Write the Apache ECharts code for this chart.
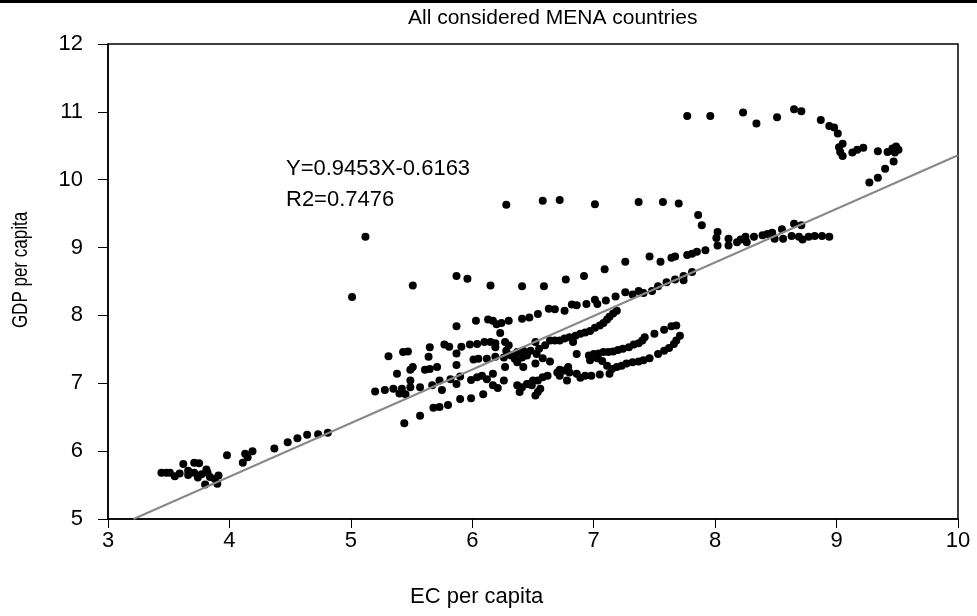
<!DOCTYPE html>
<html><head><meta charset="utf-8">
<script src="https://cdn.jsdelivr.net/npm/echarts@6/dist/echarts.min.js"></script>
<style>html,body{margin:0;padding:0;background:#fff}#c{width:977px;height:616px}</style>
</head><body><div id="c"></div>
<script>
// Text
const chartTitle = 'All considered MENA countries';
const xName = 'EC per capita';
const yName = 'GDP per capita';
const eqText = 'Y=0.9453X-0.6163';
const r2Text = 'R2=0.7476';
// Axis ranges
const xRange = [3, 10];
const yRange = [5, 12];
// Fitted line end points [EC, GDP]
const fitEC = [3.21, 10];
const fitGDP = [5.0, 10.36];
// Observations [EC per capita, GDP per capita]
const clusterLow = [[3.44,5.68],[3.48,5.68],[3.51,5.68],[3.55,5.63],[3.59,5.67],[3.62,5.81],[3.66,5.71],[3.66,5.65],[3.71,5.83],[3.75,5.82],[3.71,5.68],[3.74,5.61],[3.77,5.66],[3.81,5.73],[3.80,5.51],[3.82,5.68],[3.84,5.62],[3.88,5.59],[3.91,5.64],[3.90,5.52],[3.98,5.94],[4.11,5.83],[4.13,5.96],[4.15,5.91],[4.19,6.00],[4.37,6.04],[4.48,6.13],[4.56,6.19],[4.64,6.24],[4.73,6.25],[4.81,6.27]];
const chain85 = [[5.12,9.16],[5.01,8.27],[5.51,8.44],[5.87,8.58],[5.96,8.54],[6.15,8.44],[6.41,8.43],[6.59,8.43],[6.77,8.53],[6.92,8.58],[7.09,8.68],[7.26,8.79],[7.46,8.87],[7.55,8.79],[7.64,8.85],[7.67,8.87],[7.77,8.89],[7.81,8.91],[7.85,8.94],[7.92,8.96]];
const row96 = [[6.28,9.63],[6.58,9.69],[6.72,9.70],[7.01,9.64],[7.37,9.67],[7.57,9.67],[7.70,9.65],[7.86,9.48],[7.89,9.33]];
const row92 = [[8.02,9.23],[8.01,9.14],[8.02,9.03],[8.11,9.13],[8.11,9.03],[8.18,9.08],[8.21,9.12],[8.25,9.16],[8.26,9.08],[8.32,9.16],[8.39,9.18],[8.43,9.20],[8.47,9.22],[8.49,9.13],[8.55,9.27],[8.56,9.13],[8.65,9.35],[8.71,9.33],[8.63,9.17],[8.69,9.16],[8.72,9.12],[8.77,9.16],[8.82,9.17],[8.88,9.17],[8.94,9.16]];
const arcTop = [[7.77,10.94],[7.96,10.94],[8.23,10.99],[8.34,10.83],[8.51,10.92],[8.65,11.04],[8.71,11.01],[8.87,10.88],[8.94,10.79],[8.98,10.77],[9.01,10.68],[9.05,10.53],[9.02,10.48],[9.03,10.41],[9.05,10.35],[9.13,10.40],[9.17,10.44],[9.22,10.47],[9.34,10.42],[9.42,10.41],[9.46,10.46],[9.49,10.49],[9.51,10.44],[9.48,10.40],[9.47,10.27],[9.40,10.16],[9.34,10.03],[9.27,9.96]];
const chain80 = [[5.87,7.84],[6.03,7.92],[6.13,7.94],[6.17,7.92],[6.20,7.87],[6.24,7.89],[6.30,7.92],[6.41,7.95],[6.47,7.97],[6.23,7.74],[6.54,8.02],[6.63,8.10],[6.68,8.09],[6.76,8.07],[6.82,8.16],[6.86,8.15],[6.94,8.17],[7.01,8.23],[7.03,8.17],[7.10,8.22],[7.18,8.28],[7.26,8.34],[7.32,8.31],[7.37,8.36],[7.41,8.33],[7.48,8.36],[7.53,8.43],[7.60,8.49],[7.67,8.53],[7.74,8.58],[7.74,8.52],[7.81,8.64]];
const chainSteep = [[7.19,8.07],[7.16,8.03],[7.13,7.98],[7.11,7.94],[7.08,7.89],[7.05,7.85],[7.01,7.82],[6.97,7.77],[6.93,7.75],[6.89,7.73],[6.85,7.70],[6.80,7.68],[6.76,7.66],[6.72,7.63],[6.68,7.63],[6.64,7.63],[6.83,7.61],[6.60,7.56],[6.52,7.61],[6.55,7.51],[6.48,7.48],[6.42,7.48],[6.37,7.46],[6.32,7.41],[6.45,7.41],[6.53,7.43],[6.58,7.37],[6.64,7.32],[6.52,7.29]];
const clusterMid = [[5.77,7.57],[5.81,7.54],[5.65,7.53],[5.91,7.54],[5.98,7.57],[6.04,7.58],[6.10,7.61],[6.15,7.61],[6.19,7.59],[6.19,7.53],[6.27,7.61],[6.30,7.56],[6.28,7.48],[5.43,7.46],[5.47,7.47],[5.31,7.40],[5.64,7.39],[5.87,7.44],[6.01,7.35],[6.05,7.36],[6.12,7.36],[6.19,7.39],[6.26,7.38],[6.35,7.36],[6.41,7.38],[6.37,7.31],[6.42,7.24],[6.27,7.24],[5.49,7.20],[5.51,7.24],[5.61,7.20],[5.65,7.21],[5.71,7.24],[5.87,7.27],[5.38,7.14],[5.49,7.04],[5.73,7.04],[5.82,7.06],[5.90,7.10],[5.99,7.05],[6.04,7.09],[6.08,7.11],[6.12,7.06],[6.17,7.14],[6.26,7.04],[5.87,6.99],[5.20,6.88],[5.28,6.90],[5.35,6.92],[5.42,6.92],[5.40,6.85],[5.45,6.84],[5.49,6.94],[5.57,6.94],[5.67,6.97],[5.75,6.90],[6.17,6.97],[6.21,6.93],[6.37,6.97],[6.41,6.94],[6.39,6.87],[6.45,6.99],[5.90,6.77],[5.99,6.78],[6.09,6.84],[5.80,6.68],[5.73,6.65],[5.68,6.64],[5.57,6.52],[5.44,6.41]];
const chainA = [[6.86,7.43],[6.96,7.41],[7.00,7.43],[7.04,7.44],[7.08,7.46],[7.12,7.46],[7.16,7.47],[7.20,7.49],[7.24,7.51],[7.29,7.53],[7.33,7.57],[7.37,7.59],[7.40,7.63],[7.42,7.68],[7.50,7.73],[7.58,7.79],[7.64,7.84],[7.68,7.85],[6.97,7.34],[7.03,7.37],[7.07,7.33]];
const chainB = [[7.71,7.70],[7.68,7.63],[7.66,7.58],[7.62,7.52],[7.58,7.48],[7.53,7.43],[7.46,7.37],[7.41,7.34],[7.37,7.32],[7.32,7.31],[7.27,7.29],[7.23,7.26],[7.19,7.24],[7.15,7.21],[7.11,7.26],[7.13,7.14],[7.05,7.13],[6.98,7.11],[6.93,7.11],[6.89,7.08],[6.86,7.14],[6.80,7.16],[6.79,7.24],[6.76,7.19],[6.72,7.20],[6.70,7.16],[6.72,7.11],[6.78,7.04],[6.62,7.11],[6.58,7.09],[6.54,7.04],[6.50,7.04],[6.46,6.99],[6.49,6.97],[6.56,6.92],[6.54,6.87],[6.52,6.82]];

const allPoints = [].concat(clusterLow, chain85, row96, row92, arcTop, chain80, chainSteep, clusterMid, chainA, chainB);
const FONT = 'Liberation Sans';

const chart = echarts.init(document.getElementById('c'), null, {renderer: 'canvas'});
chart.setOption({
  animation: false,
  backgroundColor: '#ffffff',
  grid: {left: 108, right: 19, top: 44, bottom: 97, show: true, borderColor: '#000', borderWidth: 1.5, backgroundColor: 'transparent'},
  xAxis: {
    type: 'value', min: xRange[0], max: xRange[1], interval: 1,
    axisLine: {show: true, onZero: false, lineStyle: {color: '#000', width: 1.5}},
    axisTick: {show: true, inside: false, length: 9, lineStyle: {color: '#000', width: 1}},
    axisLabel: {color: '#000', fontSize: 22, fontFamily: FONT, margin: 11},
    splitLine: {show: false}
  },
  yAxis: {
    type: 'value', min: yRange[0], max: yRange[1], interval: 1,
    axisLine: {show: true, onZero: false, lineStyle: {color: '#000', width: 1.5}},
    axisTick: {show: true, inside: false, length: 10, lineStyle: {color: '#000', width: 1}},
    axisLabel: {color: '#000', fontSize: 22, fontFamily: FONT, margin: 25},
    splitLine: {show: false}
  },
  series: [
    {
      type: 'scatter', data: allPoints, symbol: 'circle', symbolSize: 8,
      itemStyle: {color: '#000', opacity: 1}, z: 2
    },
    {
      type: 'line', data: fitEC.map((x, i) => [x, fitGDP[i]]), showSymbol: false, symbol: 'none',
      lineStyle: {color: '#888888', width: 2}, z: 3, silent: true
    }
  ],
  graphic: [
    {type: 'rect', left: 0, top: 0, shape: {width: 977, height: 3}, style: {fill: '#000'}},
    {type: 'text', left: 408, top: 8, style: {text: chartTitle, font: '21px "Liberation Sans"', fill: '#000'}},
    {type: 'text', left: 286, top: 158, style: {text: eqText, font: '22px "Liberation Sans"', fill: '#000'}},
    {type: 'text', left: 286, top: 189, style: {text: r2Text, font: '22px "Liberation Sans"', fill: '#000'}},
    {type: 'text', left: 410, top: 586, style: {text: xName, font: '22px "Liberation Sans"', fill: '#000'}},
    {type: 'text', x: 21, y: 270, rotation: Math.PI / 2, scaleY: 1.3, style: {text: yName, font: '17px "Liberation Sans"', fill: '#000', align: 'center', verticalAlign: 'middle'}}
  ]
});
</script></body></html>
